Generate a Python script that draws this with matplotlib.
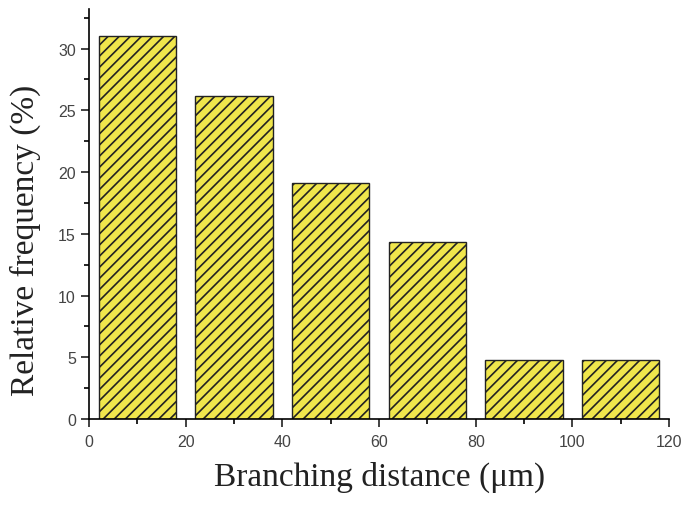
import matplotlib.pyplot as plt
from matplotlib.ticker import MultipleLocator

# Bin centres (um) and relative frequency (%)
bin_centers = [10, 30, 50, 70, 90, 110]
frequency = [31.0, 26.2, 19.1, 14.35, 4.8, 4.8]
bar_width = 16

plt.rcParams['hatch.linewidth'] = 1.2
plt.rcParams['hatch.color'] = '#45391f'

fig = plt.figure(figsize=(6.87, 5.06), dpi=100)
ax = fig.add_axes([0.1296, 0.170, 0.8444, 0.810])

ax.bar(bin_centers, frequency, width=bar_width, color='#f0e64c',
       edgecolor='#222222', linewidth=1.0, hatch='///')

ax.set_xlim(0, 120)
ax.set_ylim(0, 33.2)
ax.xaxis.set_major_locator(MultipleLocator(20))
ax.xaxis.set_minor_locator(MultipleLocator(10))
ax.yaxis.set_major_locator(MultipleLocator(5))
ax.yaxis.set_minor_locator(MultipleLocator(2.5))

for s in ['top', 'right']:
    ax.spines[s].set_visible(False)
for s in ['left', 'bottom']:
    ax.spines[s].set_linewidth(1.2)

ax.tick_params(which='major', direction='out', length=6, width=1.2,
               labelsize=11.5, colors='#222222')
ax.tick_params(axis='x', which='major', pad=5)
ax.tick_params(which='minor', direction='out', length=3.5, width=1.2)
for lab in ax.get_xticklabels() + ax.get_yticklabels():
    lab.set_family('Liberation Sans')
    lab.set_color('#444444')

ax.set_xlabel('Branching distance (\u03bcm)', family='Liberation Serif',
              fontsize=24, color='#222222', labelpad=8)
ax.set_ylabel('Relative frequency (%)', family='Liberation Serif',
              fontsize=24, color='#222222')
ax.yaxis.set_label_coords(-0.082, 0.437)

fig.savefig('out.png', dpi=100)
